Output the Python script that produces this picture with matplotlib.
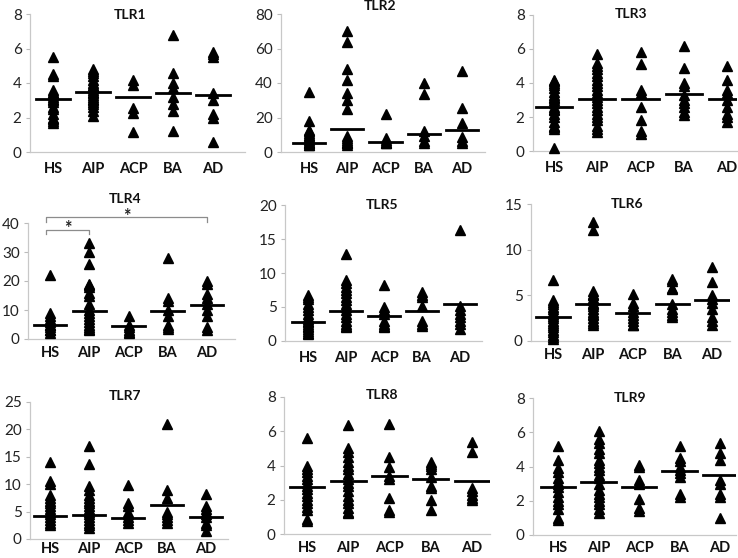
import numpy as np
import matplotlib
matplotlib.use("Agg")
import matplotlib.pyplot as plt

plt.rcParams['font.family'] = ['Lato', 'DejaVu Sans']

groups = ["HS", "AIP", "ACP", "BA", "AD"]

# ── values (one list per group) ──
tlr1 = [
    [5.5, 4.5, 4.4, 3.6, 3.5, 3.4, 3.3, 3.2, 3.1, 3.0, 2.9, 2.6, 2.5, 2.2, 2.0, 1.9, 1.8, 1.7],
    [4.8, 4.7, 4.6, 4.4, 4.2, 4.0, 3.9, 3.8, 3.7, 3.6, 3.5, 3.4, 3.3, 3.2, 3.1, 3.0, 2.9, 2.8, 2.6, 2.4, 2.1],
    [4.2, 3.9, 2.55, 2.25, 1.15],
    [6.8, 4.6, 4.0, 3.7, 3.2, 2.8, 2.4, 1.2],
    [5.8, 5.7, 5.5, 3.4, 3.0, 2.2, 2.0, 0.6],
]
tlr1_means = [3.05, 3.48, 3.16, 3.41, 3.28]

tlr2 = [
    [35, 18, 13, 12, 11, 10, 9, 8, 7, 6, 5, 5, 4, 4],
    [70, 64, 48, 42, 34, 30, 25, 9, 8, 7, 6, 5, 5, 4],
    [22, 8, 7, 6, 5, 5],
    [40, 33.5, 12, 9, 6.5, 5],
    [47, 25.5, 17, 8.8, 6.5, 5],
]
tlr2_means = [5.0, 13.5, 5.9, 10.6, 12.7]

tlr3 = [
    [4.2, 4.1, 4.0, 3.9, 3.7, 3.5, 3.3, 3.2, 3.1, 3.0, 2.8, 2.6, 2.5, 2.4, 2.2, 2.0, 1.7, 1.5, 1.4, 1.3, 0.2],
    [5.7, 5.2, 5.0, 4.8, 4.6, 4.4, 4.2, 4.0, 3.8, 3.6, 3.4, 3.2, 3.0, 2.8, 2.6, 2.4, 2.2, 2.0, 1.8, 1.5, 1.3, 1.1],
    [5.8, 5.1, 3.6, 3.4, 2.6, 1.8, 1.2, 1.0],
    [6.2, 4.9, 4.0, 3.8, 3.3, 3.0, 2.8, 2.6, 2.3, 2.1],
    [5.0, 4.2, 3.6, 3.4, 3.0, 2.6, 2.2, 2.0, 1.7],
]
tlr3_means = [2.6, 3.08, 3.08, 3.35, 3.08]

tlr4 = [
    [22, 9, 8, 7, 6, 5, 5, 4, 3, 3, 2],
    [33, 30, 26, 19, 18.5, 18, 16, 15, 12, 10, 9, 8, 7, 6, 5, 4, 3.5, 3],
    [8, 5, 4, 3, 2.5, 2],
    [28, 14, 13, 10, 8, 5, 4, 3.5],
    [20, 19, 15.5, 14, 12, 10, 8, 4, 3],
]
tlr4_means = [4.7, 9.8, 4.4, 9.8, 11.7]

tlr5 = [
    [6.8, 6.5, 6.2, 5.5, 5.0, 4.5, 4.0, 3.5, 3.2, 3.0, 2.8, 2.5, 2.2, 2.0, 1.8, 1.5, 1.2, 1.0],
    [12.8, 9.0, 8.5, 8.0, 7.5, 7.0, 6.5, 6.0, 5.5, 5.0, 4.5, 4.0, 3.5, 3.0, 2.5, 2.2, 2.0],
    [8.3, 5.0, 4.5, 4.0, 3.0, 2.5, 2.2, 2.0],
    [7.2, 6.8, 6.5, 5.2, 3.0, 2.5, 2.2],
    [16.3, 5.2, 4.5, 4.0, 3.5, 3.0, 2.5, 1.8],
]
tlr5_means = [2.75, 4.45, 3.7, 4.35, 5.5]

tlr6 = [
    [6.7, 4.5, 4.3, 4.0, 3.7, 3.5, 3.2, 3.0, 2.7, 2.5, 2.2, 2.0, 1.8, 1.5, 1.2, 1.0, 0.7, 0.4, 0.2],
    [13.0, 12.2, 5.5, 5.2, 5.0, 4.7, 4.5, 4.2, 4.0, 3.8, 3.5, 3.2, 3.0, 2.8, 2.5, 2.2, 2.0, 1.8],
    [5.1, 4.2, 3.8, 3.2, 2.8, 2.5, 2.2, 1.8, 1.7],
    [6.8, 6.6, 5.8, 5.7, 4.0, 3.5, 3.2, 2.8, 2.6],
    [8.1, 6.5, 5.0, 4.6, 4.2, 3.5, 2.6, 2.2, 1.8],
]
tlr6_means = [2.65, 4.05, 3.07, 4.05, 4.5]

tlr7 = [
    [14.0, 10.5, 10.0, 8.0, 7.5, 7.0, 6.5, 6.0, 5.5, 5.0, 4.5, 4.0, 3.5, 3.0, 2.5],
    [17.0, 13.7, 9.7, 9.0, 8.0, 7.5, 7.0, 6.5, 6.0, 5.5, 5.0, 4.5, 4.0, 3.5, 3.0, 2.5, 2.0],
    [9.9, 6.5, 6.0, 5.0, 4.5, 4.0, 3.5, 3.0],
    [21.0, 9.0, 7.5, 5.0, 4.5, 4.0, 3.5, 3.0],
    [8.3, 6.0, 5.5, 5.0, 4.5, 4.0, 3.0, 2.5, 1.5],
]
tlr7_means = [4.2, 4.4, 3.8, 6.2, 4.0]

tlr8 = [
    [5.6, 4.0, 3.8, 3.6, 3.4, 3.2, 3.0, 2.8, 2.6, 2.4, 2.2, 2.0, 1.8, 1.6, 1.4, 0.9, 0.75],
    [6.35, 5.0, 4.8, 4.5, 4.2, 4.0, 3.8, 3.5, 3.2, 3.0, 2.8, 2.5, 2.2, 2.0, 1.8, 1.5, 1.3, 1.2],
    [6.4, 4.5, 3.9, 3.4, 3.2, 2.1, 1.4, 1.3],
    [4.2, 4.1, 4.0, 3.8, 3.3, 2.8, 2.7, 2.0, 1.4],
    [5.4, 4.8, 2.7, 2.5, 2.3, 2.1, 2.0],
]
tlr8_means = [2.72, 3.1, 3.38, 3.23, 3.1]

tlr9 = [
    [5.2, 4.4, 3.9, 3.7, 3.3, 3.1, 3.0, 2.8, 2.5, 2.2, 2.0, 1.8, 1.5, 1.0, 0.9],
    [6.1, 5.6, 5.4, 5.0, 4.8, 4.4, 4.2, 4.0, 3.8, 3.5, 3.3, 3.0, 2.6, 2.4, 2.2, 2.0, 1.8, 1.5, 1.3],
    [4.1, 4.0, 3.2, 3.0, 2.1, 1.6, 1.4],
    [5.2, 4.5, 4.3, 4.0, 3.8, 3.6, 3.4, 2.4, 2.2],
    [5.4, 4.8, 4.4, 3.2, 3.0, 2.4, 2.2, 1.0],
]
tlr9_means = [2.82, 3.08, 2.82, 3.72, 3.5]

titles = ["TLR1", "TLR2", "TLR3", "TLR4", "TLR5", "TLR6", "TLR7", "TLR8", "TLR9"]
yticks = [[0, 2, 4, 6, 8], [0, 20, 40, 60, 80], [0, 2, 4, 6, 8],
          [0, 10, 20, 30, 40], [0, 5, 10, 15, 20], [0, 5, 10, 15],
          [0, 5, 10, 15, 20, 25], [0, 2, 4, 6, 8], [0, 2, 4, 6, 8]]

panels = [(tlr1, tlr1_means), (tlr2, tlr2_means), (tlr3, tlr3_means),
          (tlr4, tlr4_means), (tlr5, tlr5_means), (tlr6, tlr6_means),
          (tlr7, tlr7_means), (tlr8, tlr8_means), (tlr9, tlr9_means)]

# ── layout in pixels: axis left, axis right, HS x, AD x, top tick y, zero y, title x, title y, label pad ──
W, H = 738, 558
layout = [
    (30, 245, 53, 213, 14, 152, 130, 15, 7),
    (281, 485, 309, 462, 14, 152, 380, 6, 7),
    (533, 737, 554, 727, 15, 151, 631, 14, 7),
    (28, 235, 50, 207, 223, 339, 125, 199, 5),
    (285, 482, 308, 460, 205, 341, 382, 205, 7),
    (531, 730, 553, 712, 204, 341, 627, 204, 5),
    (30, 228, 50, 206, 402, 539, 125, 396, 2.5),
    (284, 490, 307, 472, 397, 534, 382, 395, 5),
    (533, 736, 558, 720, 398, 535, 630, 398, 4),
]

fig = plt.figure(figsize=(W / 100, H / 100), dpi=100)
x = np.arange(1, len(groups) + 1)

for i, ((vals, means), (l, r, xhs, xad, ytop, ybot, tx, ty, lpad)) in enumerate(zip(panels, layout)):
    ax = fig.add_axes([l / W, 1 - ybot / H, (r - l) / W, (ybot - ytop) / H])
    step = (xad - xhs) / 4
    ax.set_xlim(1 - (xhs - l) / step, 5 + (r - xad) / step)
    ax.set_ylim(0, yticks[i][-1])
    for xi, v, m in zip(x, vals, means):
        ax.plot([xi] * len(v), v, linestyle="none", marker="^", ms=7.5,
                color="black", clip_on=False, zorder=3)
        ax.plot([xi - 0.42, xi + 0.42], [m, m], color="black", lw=2, zorder=4)
    ax.set_xticks(x)
    ax.set_xticklabels(groups, fontsize=10.5, fontweight="bold", color="#111111")
    ax.set_yticks(yticks[i])
    ax.tick_params(axis="x", length=0, pad=lpad)
    ax.tick_params(axis="y", length=3, width=0.8, color="#bbbbbb", labelsize=11,
                   labelcolor="#222222", pad=3)
    for s in ["top", "right"]:
        ax.spines[s].set_visible(False)
    for s in ["left", "bottom"]:
        ax.spines[s].set_color("#c8c8c8")
        ax.spines[s].set_linewidth(0.9)
    fig.text(tx / W, 1 - ty / H, titles[i], ha="center", va="center",
             fontsize=10, fontweight="bold", color="#111111")

    if titles[i] == "TLR4":
        br = dict(color="#8c8c8c", lw=0.9, clip_on=False)
        ax.plot([0.9, 0.9, 2.0, 2.0], [36.2, 37.6, 37.6, 36.2], **br)
        ax.text(1.45, 38.1, "*", ha="center", va="center", fontsize=13,
                fontweight="bold", color="#222222")
        ax.plot([0.9, 0.9, 5.0, 5.0], [40.3, 41.9, 41.9, 40.3], **br)
        ax.text(2.95, 42.4, "*", ha="center", va="center", fontsize=13,
                fontweight="bold", color="#222222")

fig.savefig("out.png", dpi=100)
